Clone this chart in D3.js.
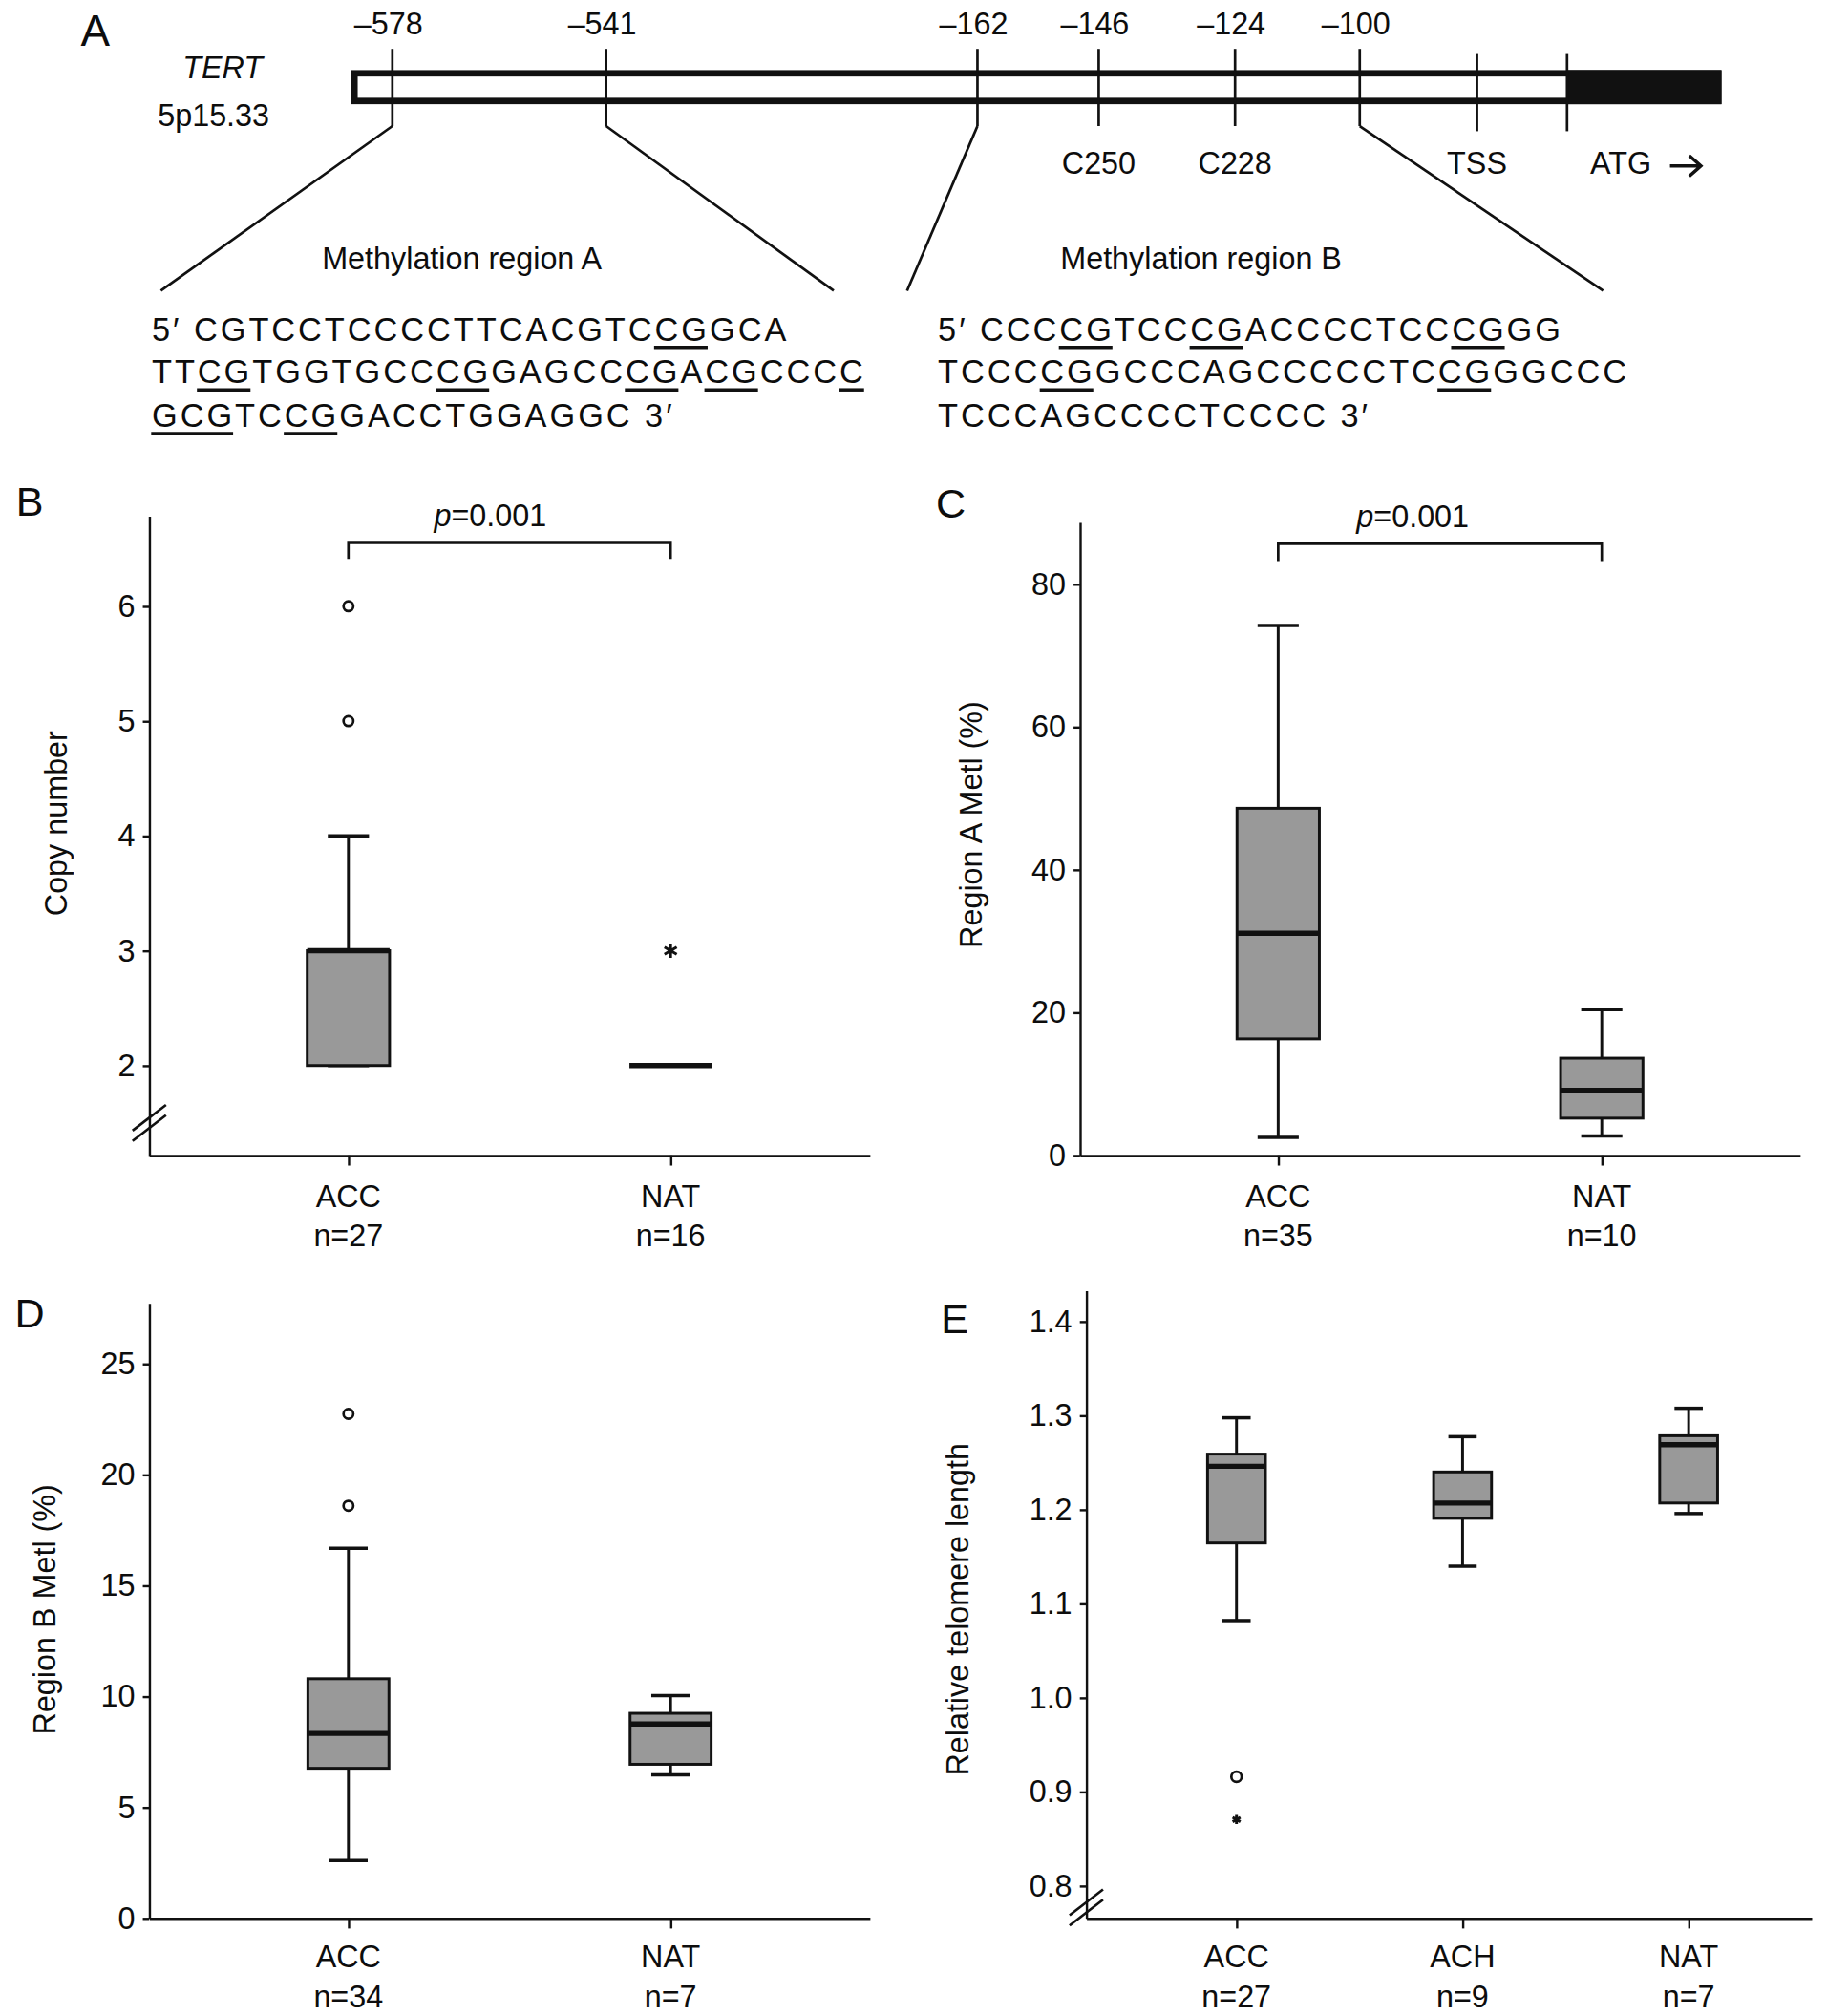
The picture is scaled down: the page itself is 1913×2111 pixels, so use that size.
<!DOCTYPE html>
<html>
<head>
<meta charset="utf-8">
<script src="https://cdn.jsdelivr.net/npm/d3@7"></script>
<style>
  body { margin: 0; background: #fff; }
  text { font-family: "Liberation Sans", Arial, Helvetica, sans-serif; fill: #0d0d0d; }
</style>
</head>
<body>
<div id="fig"></div>
<script>
// ---- panel A: TERT promoter map ----
const siteTop = ["\u2013578", "\u2013541", "\u2013162", "\u2013146", "\u2013124", "\u2013100", "", ""];
const siteBottom = ["", "", "", "C250", "C228", "", "TSS", "ATG"];
const sitePos = [0.030, 0.186, 0.457, 0.5455, 0.645, 0.736, 0.8216, 0.8873]; // fraction along gene bar
const regionNames = ["Methylation region A", "Methylation region B"];
const regionSites = [[0, 1], [2, 5]];
const seqA = ["5\u2032 CGTCCTCCCCTTCACGTCCGGCA", "TTCGTGGTGCCCGGAGCCCGACGCCCC", "GCGTCCGGACCTGGAGGC 3\u2032"];
const seqB = ["5\u2032 CCCCGTCCCGACCCCTCCCGGG", "TCCCCGGCCCAGCCCCCTCCGGGCCC", "TCCCAGCCCCTCCCC 3\u2032"];
const cpgA = [[[21, 22]], [[2, 3], [11, 12], [18, 19], [21, 22], [26, 26]], [[0, 2], [5, 6]]];
const cpgB = [[[6, 7], [11, 12], [21, 22]], [[4, 5], [19, 20]], []];

// ---- panels B-E: box plots, each box = [low whisker, q1, median, q3, high whisker] ----
const groups2 = ["ACC", "NAT"];
const groups3 = ["ACC", "ACH", "NAT"];

const copyN = [27, 16];
const copyBox = [[2, 2, 3, 3, 4], [2, 2, 2, 2, 2]];
const copyOutliers = [[6, 5], []];
const copyExtremes = [[], [3]];
const copyTicks = [2, 3, 4, 5, 6];

const regANin = [35, 10];
const regABox = [[2.5, 16.3, 31.1, 48.6, 74.2], [2.7, 5.2, 9.1, 13.6, 20.4]];
const regATicks = [0, 20, 40, 60, 80];

const regBN = [34, 7];
const regBBox = [[2.6, 6.76, 8.33, 10.8, 16.68], [6.46, 6.94, 8.76, 9.24, 10.04]];
const regBOutliers = [[22.74, 18.6], []];
const regBTicks = [0, 5, 10, 15, 20, 25];

const teloN = [27, 9, 7];
const teloBox = [[1.082, 1.1645, 1.246, 1.259, 1.2976], [1.1398, 1.1907, 1.207, 1.240, 1.2775], [1.1958, 1.207, 1.269, 1.2785, 1.3077]];
const teloOutliers = [[0.916], [], []];
const teloExtremes = [[0.8705], [], []];
const teloTicks = [0.8, 0.9, 1.0, 1.1, 1.2, 1.3, 1.4];

const W = 1420, H = 1567;
const ink = "#111";
const svg = d3.select("#fig").append("svg")
    .attr("width", 1913).attr("height", 2111)
    .attr("viewBox", `0 0 ${W} ${H}`);

// ---------- panel A ----------
const gA = svg.append("g");
gA.append("text").attr("x", 74).attr("y", 36).attr("text-anchor", "middle")
    .attr("font-size", 34).text("A");
gA.append("text").attr("x", 173).attr("y", 61).attr("text-anchor", "middle")
    .attr("font-size", 24).attr("font-style", "italic").text("TERT");
gA.append("text").attr("x", 166).attr("y", 98).attr("text-anchor", "middle")
    .attr("font-size", 24).text("5p15.33");

const bar = d3.scaleLinear().domain([0, 1]).range([273, 1338]);
gA.append("rect")
    .attr("x", bar(0) + 2.5).attr("y", 57)
    .attr("width", bar(1) - bar(0) - 5).attr("height", 21.5)
    .attr("fill", "#fff").attr("stroke", ink).attr("stroke-width", 5);
gA.append("rect")
    .attr("x", bar(sitePos[7])).attr("y", 54.5)
    .attr("width", bar(1) - bar(sitePos[7])).attr("height", 26.5)
    .attr("fill", ink);

gA.selectAll(".site").data(sitePos).join("line")
    .attr("x1", d => bar(d)).attr("x2", d => bar(d))
    .attr("y1", (d, i) => i > 5 ? 42 : 38).attr("y2", (d, i) => i > 5 ? 102 : 98)
    .attr("stroke", ink).attr("stroke-width", 2);

gA.selectAll(".topLab").data(siteTop).join("text")
    .attr("x", (d, i) => bar(sitePos[i]) - 3).attr("y", 27)
    .attr("text-anchor", "middle").attr("font-size", 24).text(d => d);

gA.selectAll(".botLab").data(siteBottom).join("text")
    .attr("x", (d, i) => d === "ATG" ? bar(sitePos[i]) + 18 : bar(sitePos[i]))
    .attr("y", 135)
    .attr("text-anchor", d => d === "ATG" ? "start" : "middle")
    .attr("font-size", 24).text(d => d);

// arrow after ATG
const ax = bar(sitePos[7]) + 80;
gA.append("path")
    .attr("d", `M${ax},129 H${ax + 24} M${ax + 15},121 L${ax + 24},129 L${ax + 15},137`)
    .attr("fill", "none").attr("stroke", ink).attr("stroke-width", 2.6);

// zoom fans, region titles and sequences
const fanEnds = [[125, 648], [705, 1246]];
const regionLabelX = [359, 933.5];
const seqX = [118, 729];
const seqBase = [265, 298, 332];
const seqs = [seqA, seqB];
const cpgs = [cpgA, cpgB];

regionNames.forEach((name, r) => {
    const [s0, s1] = regionSites[r];
    gA.append("line")
        .attr("x1", bar(sitePos[s0])).attr("y1", 98)
        .attr("x2", fanEnds[r][0]).attr("y2", 226)
        .attr("stroke", ink).attr("stroke-width", 2);
    gA.append("line")
        .attr("x1", bar(sitePos[s1])).attr("y1", 98)
        .attr("x2", fanEnds[r][1]).attr("y2", 226)
        .attr("stroke", ink).attr("stroke-width", 2);
    gA.append("text").attr("x", regionLabelX[r]).attr("y", 209)
        .attr("text-anchor", "middle").attr("font-size", 24).text(name);

    seqs[r].forEach((line, i) => {
        const t = gA.append("text")
            .attr("x", seqX[r]).attr("y", seqBase[i])
            .attr("font-size", 25.5).attr("letter-spacing", 2.2)
            .text(line);
        const node = t.node();
        cpgs[r][i].forEach(([a, b]) => {
            const xa = node.getStartPositionOfChar(a).x;
            const ext = node.getExtentOfChar(b);
            gA.append("line")
                .attr("x1", xa - 0.5).attr("x2", ext.x + ext.width - 1.5)
                .attr("y1", seqBase[i] + 5).attr("y2", seqBase[i] + 5)
                .attr("stroke", ink).attr("stroke-width", 2.6);
        });
    });
});

// ---------- box plot panels ----------
function asterisk(r) {
    const c = r * Math.cos(Math.PI / 6), s = r * Math.sin(Math.PI / 6);
    return `M0,${-r}V${r}M${-c},${-s}L${c},${s}M${-c},${s}L${c},${-s}`;
}

function boxPanel(p) {
    const g = svg.append("g");
    const y = d3.scaleLinear().domain(p.domain).range([p.xAxisY, p.yTop]);
    const x = d3.scalePoint().domain(p.groups).range([p.axisX, p.axisEnd])
        .padding(p.pad).align(p.align);

    g.append("text").attr("x", p.letter[1]).attr("y", p.letter[2])
        .attr("text-anchor", "middle").attr("font-size", 32).text(p.letter[0]);

    const ya = g.append("g").attr("transform", `translate(${p.axisX},0)`)
        .call(d3.axisLeft(y).tickValues(p.ticks).tickFormat(p.fmt)
            .tickSize(5).tickSizeOuter(0).tickPadding(6));
    const xa = g.append("g").attr("transform", `translate(0,${p.xAxisY})`)
        .call(d3.axisBottom(x).tickSize(8).tickSizeOuter(0).tickFormat(""));
    [ya, xa].forEach(a => {
        a.select(".domain").attr("stroke", ink).attr("stroke-width", 1.8);
        a.selectAll(".tick line").attr("stroke", ink).attr("stroke-width", 1.8);
    });
    ya.selectAll(".tick text")
        .attr("font-size", 24).attr("fill", ink)
        .attr("font-family", "'Liberation Sans', Arial, sans-serif");

    // group labels and n
    p.groups.forEach((name, i) => {
        g.append("text").attr("x", x(name)).attr("y", p.labBase[0])
            .attr("text-anchor", "middle").attr("font-size", 24).text(name);
        g.append("text").attr("x", x(name)).attr("y", p.labBase[1])
            .attr("text-anchor", "middle").attr("font-size", 24).text("n=" + p.n[i]);
    });

    // y label
    g.append("text")
        .attr("transform", `translate(${p.yLab[0]},${p.yLab[1]}) rotate(-90)`)
        .attr("text-anchor", "middle").attr("font-size", 24).text(p.yLabel);

    // axis break
    if (p.breakAt !== undefined) {
        const by = y(p.breakAt);
        [-4, 4].forEach(off => {
            g.append("line")
                .attr("x1", p.axisX - 13).attr("y1", by + off + 10)
                .attr("x2", p.axisX + 13).attr("y2", by + off - 10)
                .attr("stroke", ink).attr("stroke-width", 2);
        });
    }

    const bw = p.bw, cw = p.cw;
    const boxes = g.selectAll(".bx").data(p.box).join("g")
        .attr("transform", (d, i) => `translate(${x(p.groups[i])},0)`);

    boxes.append("line").attr("x1", 0).attr("x2", 0)
        .attr("y1", d => y(d[3])).attr("y2", d => y(d[4]))
        .attr("stroke", ink).attr("stroke-width", 2.2);
    boxes.append("line").attr("x1", 0).attr("x2", 0)
        .attr("y1", d => y(d[1])).attr("y2", d => y(d[0]))
        .attr("stroke", ink).attr("stroke-width", 2.2);
    [0, 4].forEach(k => {
        boxes.append("line").attr("x1", -cw / 2).attr("x2", cw / 2)
            .attr("y1", d => y(d[k])).attr("y2", d => y(d[k]))
            .attr("stroke", ink).attr("stroke-width", 2.6);
    });
    boxes.append("rect")
        .attr("x", -bw / 2).attr("width", bw)
        .attr("y", d => y(d[3])).attr("height", d => y(d[1]) - y(d[3]))
        .attr("fill", "#999").attr("stroke", ink).attr("stroke-width", 2.2);
    boxes.append("line").attr("x1", -bw / 2).attr("x2", bw / 2)
        .attr("y1", d => y(d[2])).attr("y2", d => y(d[2]))
        .attr("stroke", ink).attr("stroke-width", 4);

    (p.outliers || []).forEach((vals, i) => {
        vals.forEach(v => {
            g.append("circle").attr("cx", x(p.groups[i])).attr("cy", y(v))
                .attr("r", p.or).attr("fill", "#fff")
                .attr("stroke", ink).attr("stroke-width", 2);
        });
    });
    (p.extremes || []).forEach((vals, i) => {
        vals.forEach(v => {
            g.append("path")
                .attr("transform", `translate(${x(p.groups[i])},${y(v)})`)
                .attr("d", asterisk(p.sr))
                .attr("stroke", ink).attr("stroke-width", 2.2).attr("fill", "none");
        });
    });

    if (p.pval) {
        const [by, leg, tx, ty] = p.pval;
        g.append("path")
            .attr("d", `M${x(p.groups[0])},${by + leg}V${by}H${x(p.groups[1])}V${by + leg}`)
            .attr("fill", "none").attr("stroke", ink).attr("stroke-width", 2);
        const t = g.append("text").attr("x", tx).attr("y", ty)
            .attr("text-anchor", "middle").attr("font-size", 24);
        t.append("tspan").attr("font-style", "italic").text("p");
        t.append("tspan").text("=0.001");
    }
}

boxPanel({
    letter: ["B", 23, 401], groups: groups2, n: copyN, box: copyBox,
    outliers: copyOutliers, extremes: copyExtremes, ticks: copyTicks, fmt: d3.format("d"),
    domain: [1.218, 6.787], xAxisY: 898, yTop: 401, axisX: 116, axisEnd: 676,
    pad: 0.618, align: 0.5, bw: 64, cw: 32, or: 3.8, sr: 5.5,
    labBase: [938, 969], yLab: [52, 640], yLabel: "Copy number",
    breakAt: 1.5, pval: [422, 12.5, 381, 409]
});

boxPanel({
    letter: ["C", 739, 402], groups: groups2, n: regANin, box: regABox,
    ticks: regATicks, fmt: d3.format("d"),
    domain: [0, 88.65], xAxisY: 898, yTop: 406, axisX: 839.4, axisEnd: 1399,
    pad: 0.6125, align: 0.5, bw: 64, cw: 32, or: 3.8, sr: 5.5,
    labBase: [938, 969], yLab: [763, 641], yLabel: "Region A Metl (%)",
    pval: [422.6, 13.5, 1098, 410]
});

boxPanel({
    letter: ["D", 23, 1032], groups: groups2, n: regBN, box: regBBox,
    outliers: regBOutliers, ticks: regBTicks, fmt: d3.format("d"),
    domain: [0, 27.73], xAxisY: 1491, yTop: 1013, axisX: 116, axisEnd: 676,
    pad: 0.618, align: 0.5, bw: 63, cw: 30, or: 3.8, sr: 5.5,
    labBase: [1529, 1560], yLab: [43, 1251], yLabel: "Region B Metl (%)"
});

boxPanel({
    letter: ["E", 742, 1036], groups: groups3, n: teloN, box: teloBox,
    outliers: teloOutliers, extremes: teloExtremes, ticks: teloTicks, fmt: d3.format(".1f"),
    domain: [0.7656, 1.433], xAxisY: 1491, yTop: 1003, axisX: 844.3, axisEnd: 1408,
    pad: 0.604, align: 0.55, bw: 45, cw: 22, or: 4, sr: 3.5,
    labBase: [1529, 1560], yLab: [753, 1251], yLabel: "Relative telomere length",
    breakAt: 0.777
});
</script>
</body>
</html>
